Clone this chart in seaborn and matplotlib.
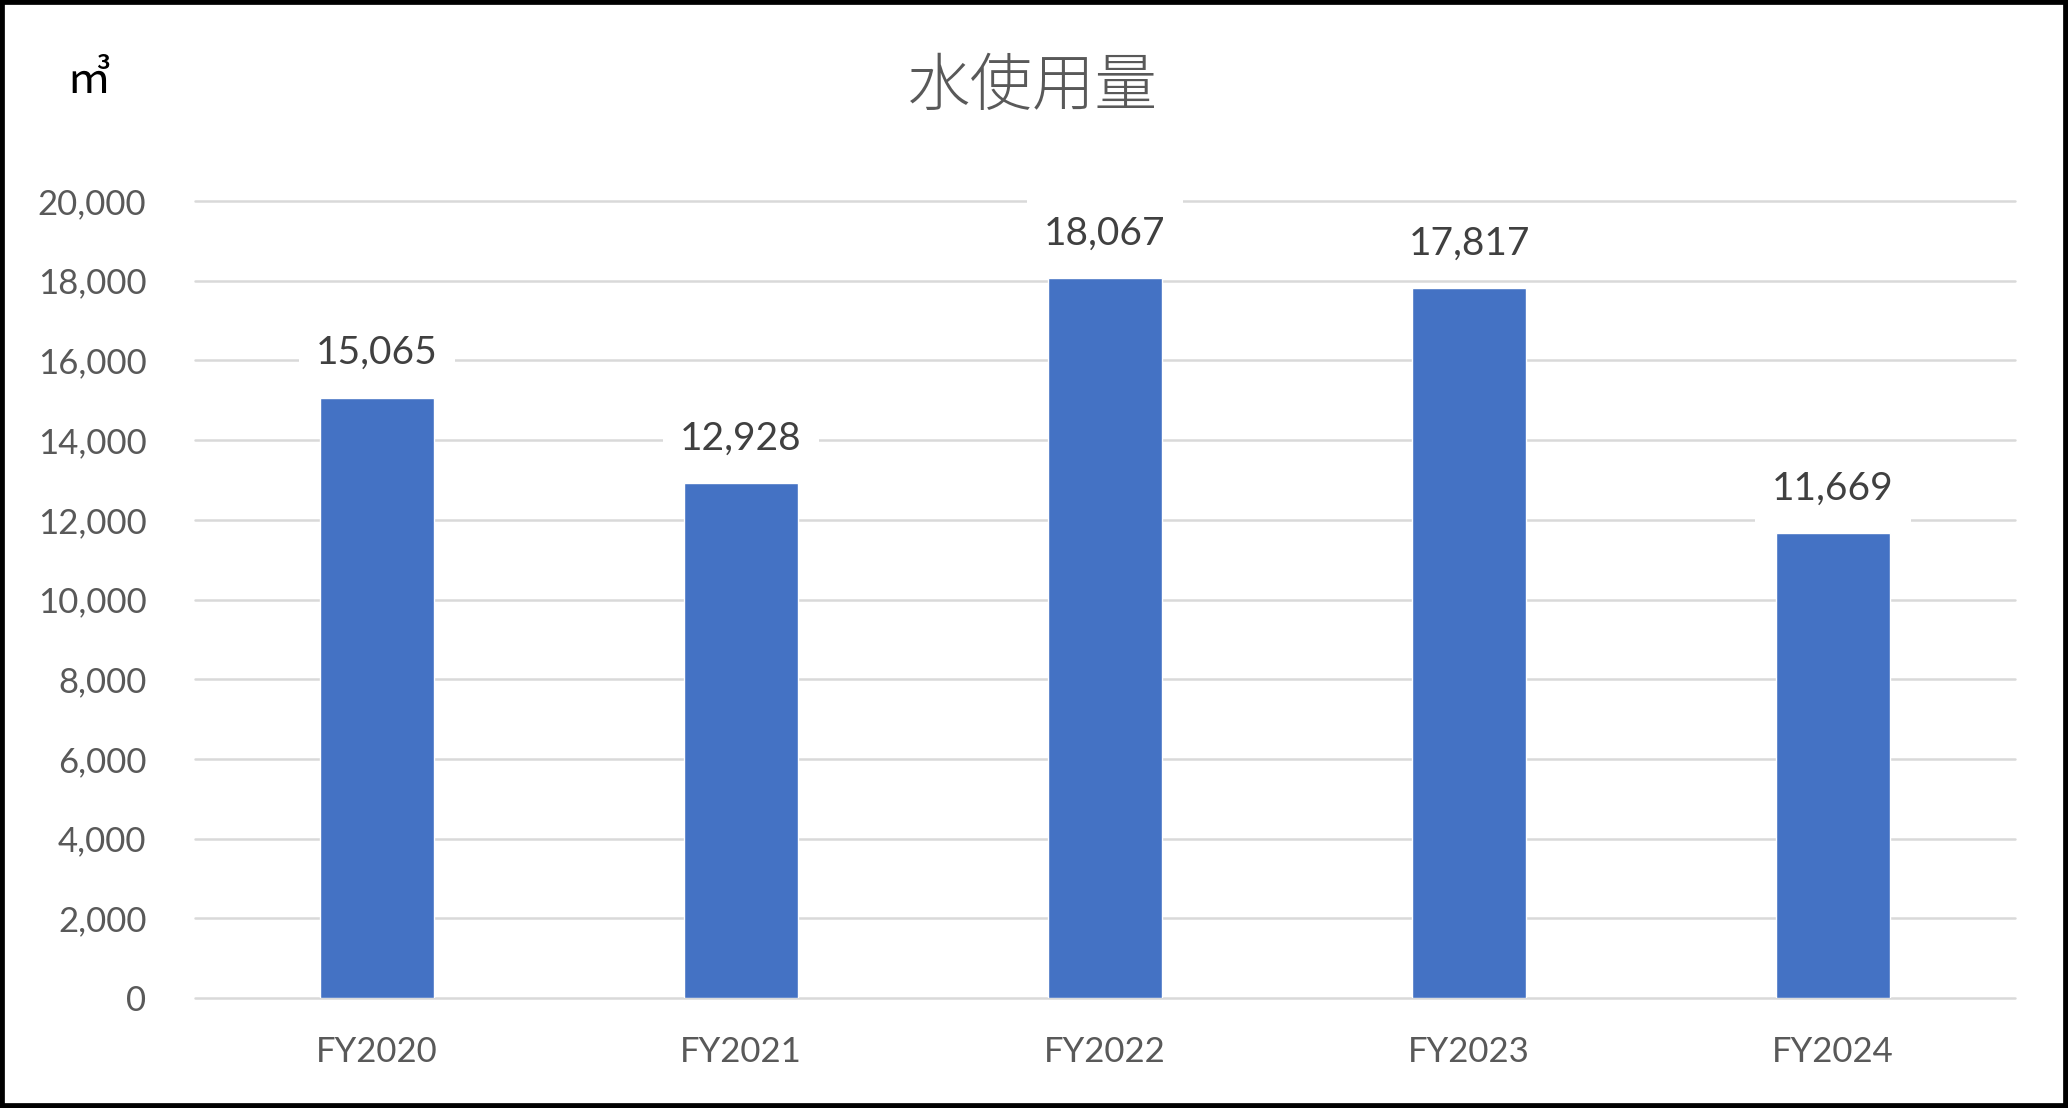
import pandas as pd
import seaborn as sns
import matplotlib
matplotlib.use('Agg')
from matplotlib import pyplot as plt
from matplotlib.patches import Rectangle
from matplotlib.ticker import StrMethodFormatter

# data
years = ['FY2020', 'FY2021', 'FY2022', 'FY2023', 'FY2024']
water_use = [15065, 12928, 18067, 17817, 11669]
y_ticks = [0, 2000, 4000, 6000, 8000, 10000, 12000, 14000, 16000, 18000, 20000]

title = '水使用量'
unit = '㎥'

bar_color = '#4472C4'
grid_color = '#D9D9D9'

sns.set_style('white')
plt.rcParams['font.family'] = ['Lato', 'Noto Sans CJK JP', 'DejaVu Sans']

df = pd.DataFrame({'year': years, 'water': water_use})

fig = plt.figure(figsize=(20.68, 11.08), dpi=100)
ax = fig.add_axes([195 / 2068, 1 - 998 / 1108, (2015 - 195) / 2068, (998 - 201) / 1108])

sns.barplot(data=df, x='year', y='water', color=bar_color, saturation=1,
            width=0.313, ax=ax, zorder=2)

ax.set_xlim(-0.5, len(years) - 0.5)
ax.set_ylim(0, 20000)
ax.set_yticks(y_ticks)
ax.yaxis.set_major_formatter(StrMethodFormatter('{x:,.0f}'))
ax.set_xlabel('')
ax.set_ylabel('')

ax.set_axisbelow(True)
ax.yaxis.grid(True, color=grid_color, linewidth=1.8)
ax.xaxis.grid(False)
for line in ax.get_ygridlines():
    line.set_clip_on(False)
for s in ax.spines.values():
    s.set_visible(False)

ax.tick_params(axis='y', length=0, pad=35, labelsize=25, labelcolor='#595959')
ax.tick_params(axis='x', length=0, pad=27, labelsize=25, labelcolor='#595959')

# data labels with white background like Excel
for i, v in enumerate(water_use):
    ax.annotate(f'{v:,}', xy=(i, v), xytext=(0, 32), textcoords='offset points',
                ha='center', va='center', fontsize=28, color='#404040',
                bbox=dict(boxstyle='square,pad=0.45', fc='white', ec='none'),
                zorder=4)

fig.text(1033 / 2068, 1 - 88 / 1108, title, ha='center', va='center',
         fontsize=45, color='#595959', fontweight='light',
         family=['Noto Sans CJK JP', 'DejaVu Sans'])
fig.text(89 / 2068, 1 - 80 / 1108, unit, ha='center', va='center',
         fontsize=32, color='black', family=['Noto Sans CJK JP', 'DejaVu Sans'])

# black frame around the whole chart
fig.patches.append(Rectangle((0, 0), 1, 1, transform=fig.transFigure, fill=False,
                             edgecolor='black', linewidth=7))

fig.savefig('out.png', dpi=100, facecolor='white')
